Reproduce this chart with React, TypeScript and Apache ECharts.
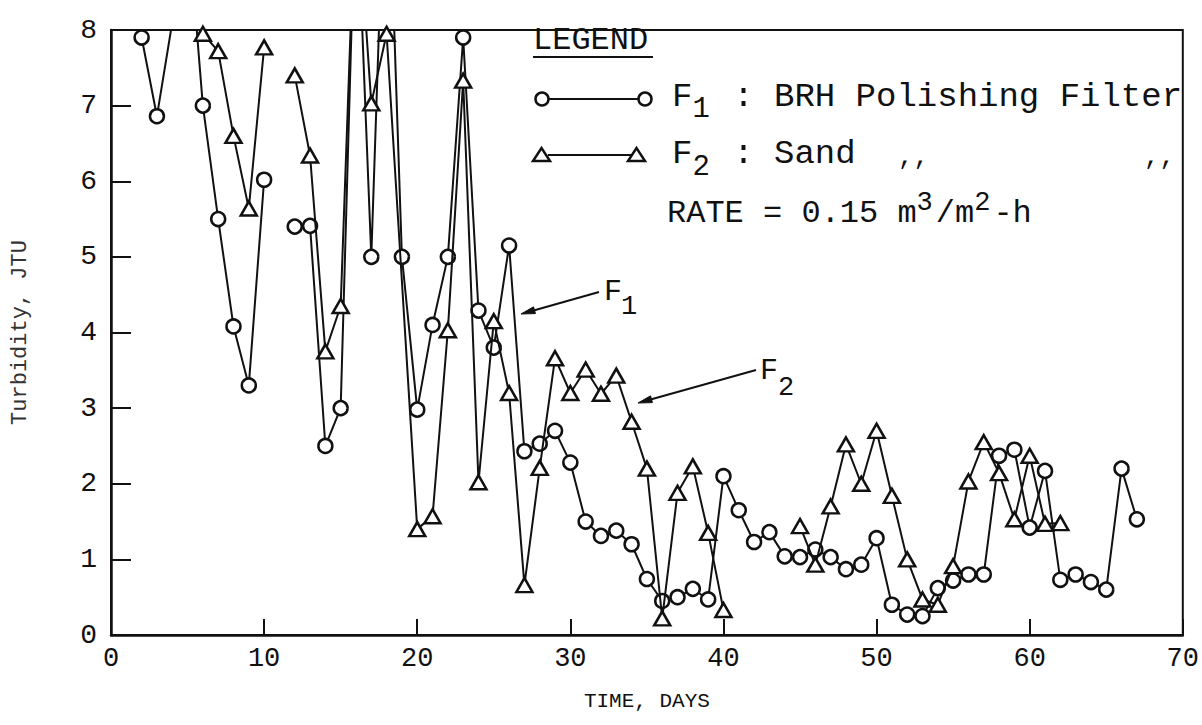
import React, { useEffect, useRef } from "react";
import * as echarts from "echarts";

// ---------- DATA ----------
const xTicks = [0, 10, 20, 30, 40, 50, 60, 70];
const yTicks = [0, 1, 2, 3, 4, 5, 6, 7, 8];

// F1 : BRH Polishing Filter (circles). null = no reading (gap)
const f1Days = [2, 3, 4, 5, 6, 7, 8, 9, 10, 11, 12, 13, 14, 15, 16, 17, 18, 19, 20, 21, 22, 23, 24, 25, 26, 27, 28, 29, 30, 31, 32, 33, 34, 35, 36, 37, 38, 39, 40, 41, 42, 43, 44, 45, 46, 47, 48, 49, 50, 51, 52, 53, 54, 55, 56, 57, 58, 59, 60, 61, 62, 63, 64, 65, 66, 67];
const f1Values = [7.9, 6.86, 8.1, 9.5, 7.0, 5.5, 4.08, 3.3, 6.02, null, 5.4, 5.41, 2.5, 3.0, 10.1, 5.0, 11.0, 5.0, 2.98, 4.1, 5.0, 7.9, 4.29, 3.8, 5.15, 2.43, 2.53, 2.7, 2.28, 1.5, 1.31, 1.38, 1.2, 0.74, 0.45, 0.5, 0.61, 0.47, 2.1, 1.65, 1.23, 1.36, 1.04, 1.03, 1.13, 1.03, 0.87, 0.93, 1.28, 0.4, 0.27, 0.25, 0.62, 0.72, 0.8, 0.8, 2.37, 2.45, 1.42, 2.17, 0.73, 0.8, 0.7, 0.6, 2.2, 1.53];

// F2 : Sand (triangles)
const f2Days = [6, 7, 8, 9, 10, 11, 12, 13, 14, 15, 16, 17, 18, 20, 21, 22, 23, 24, 25, 26, 27, 28, 29, 30, 31, 32, 33, 34, 35, 36, 37, 38, 39, 40, 42, 45, 46, 47, 48, 49, 50, 51, 52, 53, 54, 55, 56, 57, 58, 59, 60, 61, 62];
const f2Values = [7.95, 7.72, 6.6, 5.64, 7.77, null, 7.4, 6.34, 3.75, 4.35, 10.0, 7.03, 7.95, 1.4, 1.57, 4.03, 7.33, 2.02, 4.15, 3.2, 0.66, 2.21, 3.66, 3.2, 3.51, 3.19, 3.43, 2.82, 2.2, 0.22, 1.88, 2.23, 1.35, 0.33, null, 1.44, 0.93, 1.7, 2.52, 2.0, 2.7, 1.84, 1.0, 0.47, 0.4, 0.91, 2.03, 2.55, 2.14, 1.53, 2.37, 1.47, 1.48];

const xTitle = "TIME, DAYS";
const yTitle = "Turbidity, JTU";
const legendTitle = "LEGEND";
const f1Label = " : BRH Polishing Filter";
const f2Label = " : Sand";
const ditto = ",,";

// ---------- STYLE ----------
const MONO = "'Liberation Mono', 'Courier New', monospace";
const INK = "#111";

function pairs(days: number[], vals: (number | null)[]) {
  return days.map((d, i) => [d, vals[i] === null ? "-" : vals[i]]);
}

function arrow(x1: number, y1: number, x2: number, y2: number) {
  const dx = x2 - x1, dy = y2 - y1;
  const L = Math.sqrt(dx * dx + dy * dy);
  const ux = dx / L, uy = dy / L;
  const bx = x2 - ux * 14, by = y2 - uy * 14;
  const nx = -uy, ny = ux;
  return [
    { type: "line", shape: { x1, y1, x2: bx, y2: by }, style: { stroke: INK, lineWidth: 2 } },
    {
      type: "polygon",
      shape: { points: [[x2, y2], [bx + nx * 3.5, by + ny * 3.5], [bx - nx * 3.5, by - ny * 3.5]] },
      style: { fill: INK, stroke: INK, lineWidth: 1 },
    },
  ];
}

function txt(x: number, y: number, text: string, size: number, extra: any = {}) {
  return {
    type: "text",
    x,
    y,
    style: { text, fontFamily: MONO, fontSize: size, fill: INK, textVerticalAlign: "middle", ...extra },
  };
}

export default function App() {
  const ref = useRef<HTMLDivElement>(null);
  useEffect(() => {
    if (!ref.current) return;
    const chart = echarts.init(ref.current, undefined, { renderer: "svg" });
    const FS = 34;
    const cw = FS * 0.6;
    const lx = 672;
    const rateX = 667;
    const RS = 32;
    const rw = RS * 0.6;
    const graphic: any[] = [
      // legend title
      txt(533, 40, legendTitle, 32),
      { type: "line", shape: { x1: 533, y1: 57, x2: 653, y2: 57 }, style: { stroke: INK, lineWidth: 2 } },
      // F1 legend sample
      { type: "line", shape: { x1: 548, y1: 99, x2: 638, y2: 99 }, style: { stroke: INK, lineWidth: 2 } },
      { type: "circle", shape: { cx: 542, cy: 99, r: 6.5 }, style: { fill: "#fff", stroke: INK, lineWidth: 2.5 } },
      { type: "circle", shape: { cx: 645, cy: 99, r: 6.5 }, style: { fill: "#fff", stroke: INK, lineWidth: 2.5 } },
      txt(lx, 97, "F", FS),
      txt(lx + cw, 109, "1", FS - 5),
      txt(lx + 2 * cw, 97, f1Label, FS),
      // F2 legend sample
      { type: "line", shape: { x1: 548, y1: 155, x2: 632, y2: 155 }, style: { stroke: INK, lineWidth: 2 } },
      { type: "polygon", shape: { points: [[533, 161], [550, 161], [541.5, 148]] }, style: { fill: "#fff", stroke: INK, lineWidth: 2.5 } },
      { type: "polygon", shape: { points: [[628, 161], [645, 161], [636.5, 148]] }, style: { fill: "#fff", stroke: INK, lineWidth: 2.5 } },
      txt(lx, 154, "F", FS),
      txt(lx + cw, 167, "2", FS - 5),
      txt(lx + 2 * cw, 154, f2Label, FS),
      txt(898, 157, ditto, 26),
      txt(1144, 157, ditto, 26),
      // rate
      txt(rateX, 213, "RATE = 0.15 m", RS),
      txt(rateX + 13 * rw, 203, "3", RS - 5),
      txt(rateX + 14 * rw, 213, "/m", RS),
      txt(rateX + 16 * rw, 203, "2", RS - 5),
      txt(rateX + 17 * rw, 213, "-h", RS),
      // annotation F1
      ...arrow(599, 292, 521, 314),
      txt(604, 292, "F", 30),
      txt(621, 307, "1", 27),
      // annotation F2
      ...arrow(756, 370, 638, 403),
      txt(760, 371, "F", 30),
      txt(778, 388, "2", 27),
    ];

    chart.setOption({
      animation: false,
      backgroundColor: "#fff",
      grid: { left: 111, right: 17, top: 30, bottom: 90, show: true, borderColor: INK, borderWidth: 2, backgroundColor: "transparent" },
      xAxis: {
        type: "value",
        min: xTicks[0],
        max: xTicks[xTicks.length - 1],
        interval: 10,
        name: xTitle,
        nameLocation: "middle",
        nameGap: 56,
        nameTextStyle: { fontFamily: MONO, fontSize: 21, color: INK },
        axisLine: { show: true, lineStyle: { color: INK, width: 2.5 } },
        axisTick: { show: true, inside: true, length: 16, lineStyle: { color: INK, width: 2 } },
        axisLabel: { fontFamily: MONO, fontSize: 27, color: INK, margin: 10 },
        splitLine: { show: false },
      },
      yAxis: {
        type: "value",
        min: yTicks[0],
        max: yTicks[yTicks.length - 1],
        interval: 1,
        name: yTitle,
        nameLocation: "middle",
        nameGap: 80,
        nameRotate: 90,
        nameTextStyle: { fontFamily: MONO, fontSize: 22, color: "#333" },
        axisLine: { show: true, lineStyle: { color: INK, width: 2.5 } },
        axisTick: { show: true, inside: true, length: 20, lineStyle: { color: INK, width: 2 } },
        axisLabel: { fontFamily: MONO, fontSize: 28, color: INK, margin: 14 },
        splitLine: { show: false },
      },
      series: [
        {
          name: "F1",
          type: "line",
          data: pairs(f1Days, f1Values),
          symbol: "circle",
          symbolSize: 14,
          showAllSymbol: true,
          clip: true,
          lineStyle: { color: INK, width: 2 },
          itemStyle: { color: "#fff", borderColor: INK, borderWidth: 2.5 },
          z: 3,
        },
        {
          name: "F2",
          type: "line",
          data: pairs(f2Days, f2Values),
          symbol: "triangle",
          symbolSize: [16, 14],
          showAllSymbol: true,
          clip: true,
          lineStyle: { color: INK, width: 2 },
          itemStyle: { color: "#fff", borderColor: INK, borderWidth: 2.5 },
          z: 4,
        },
      ],
      graphic,
    });
    return () => chart.dispose();
  }, []);
  return <div ref={ref} style={{ position: "fixed", left: 0, top: 0, width: 1202, height: 725 }} />;
}
